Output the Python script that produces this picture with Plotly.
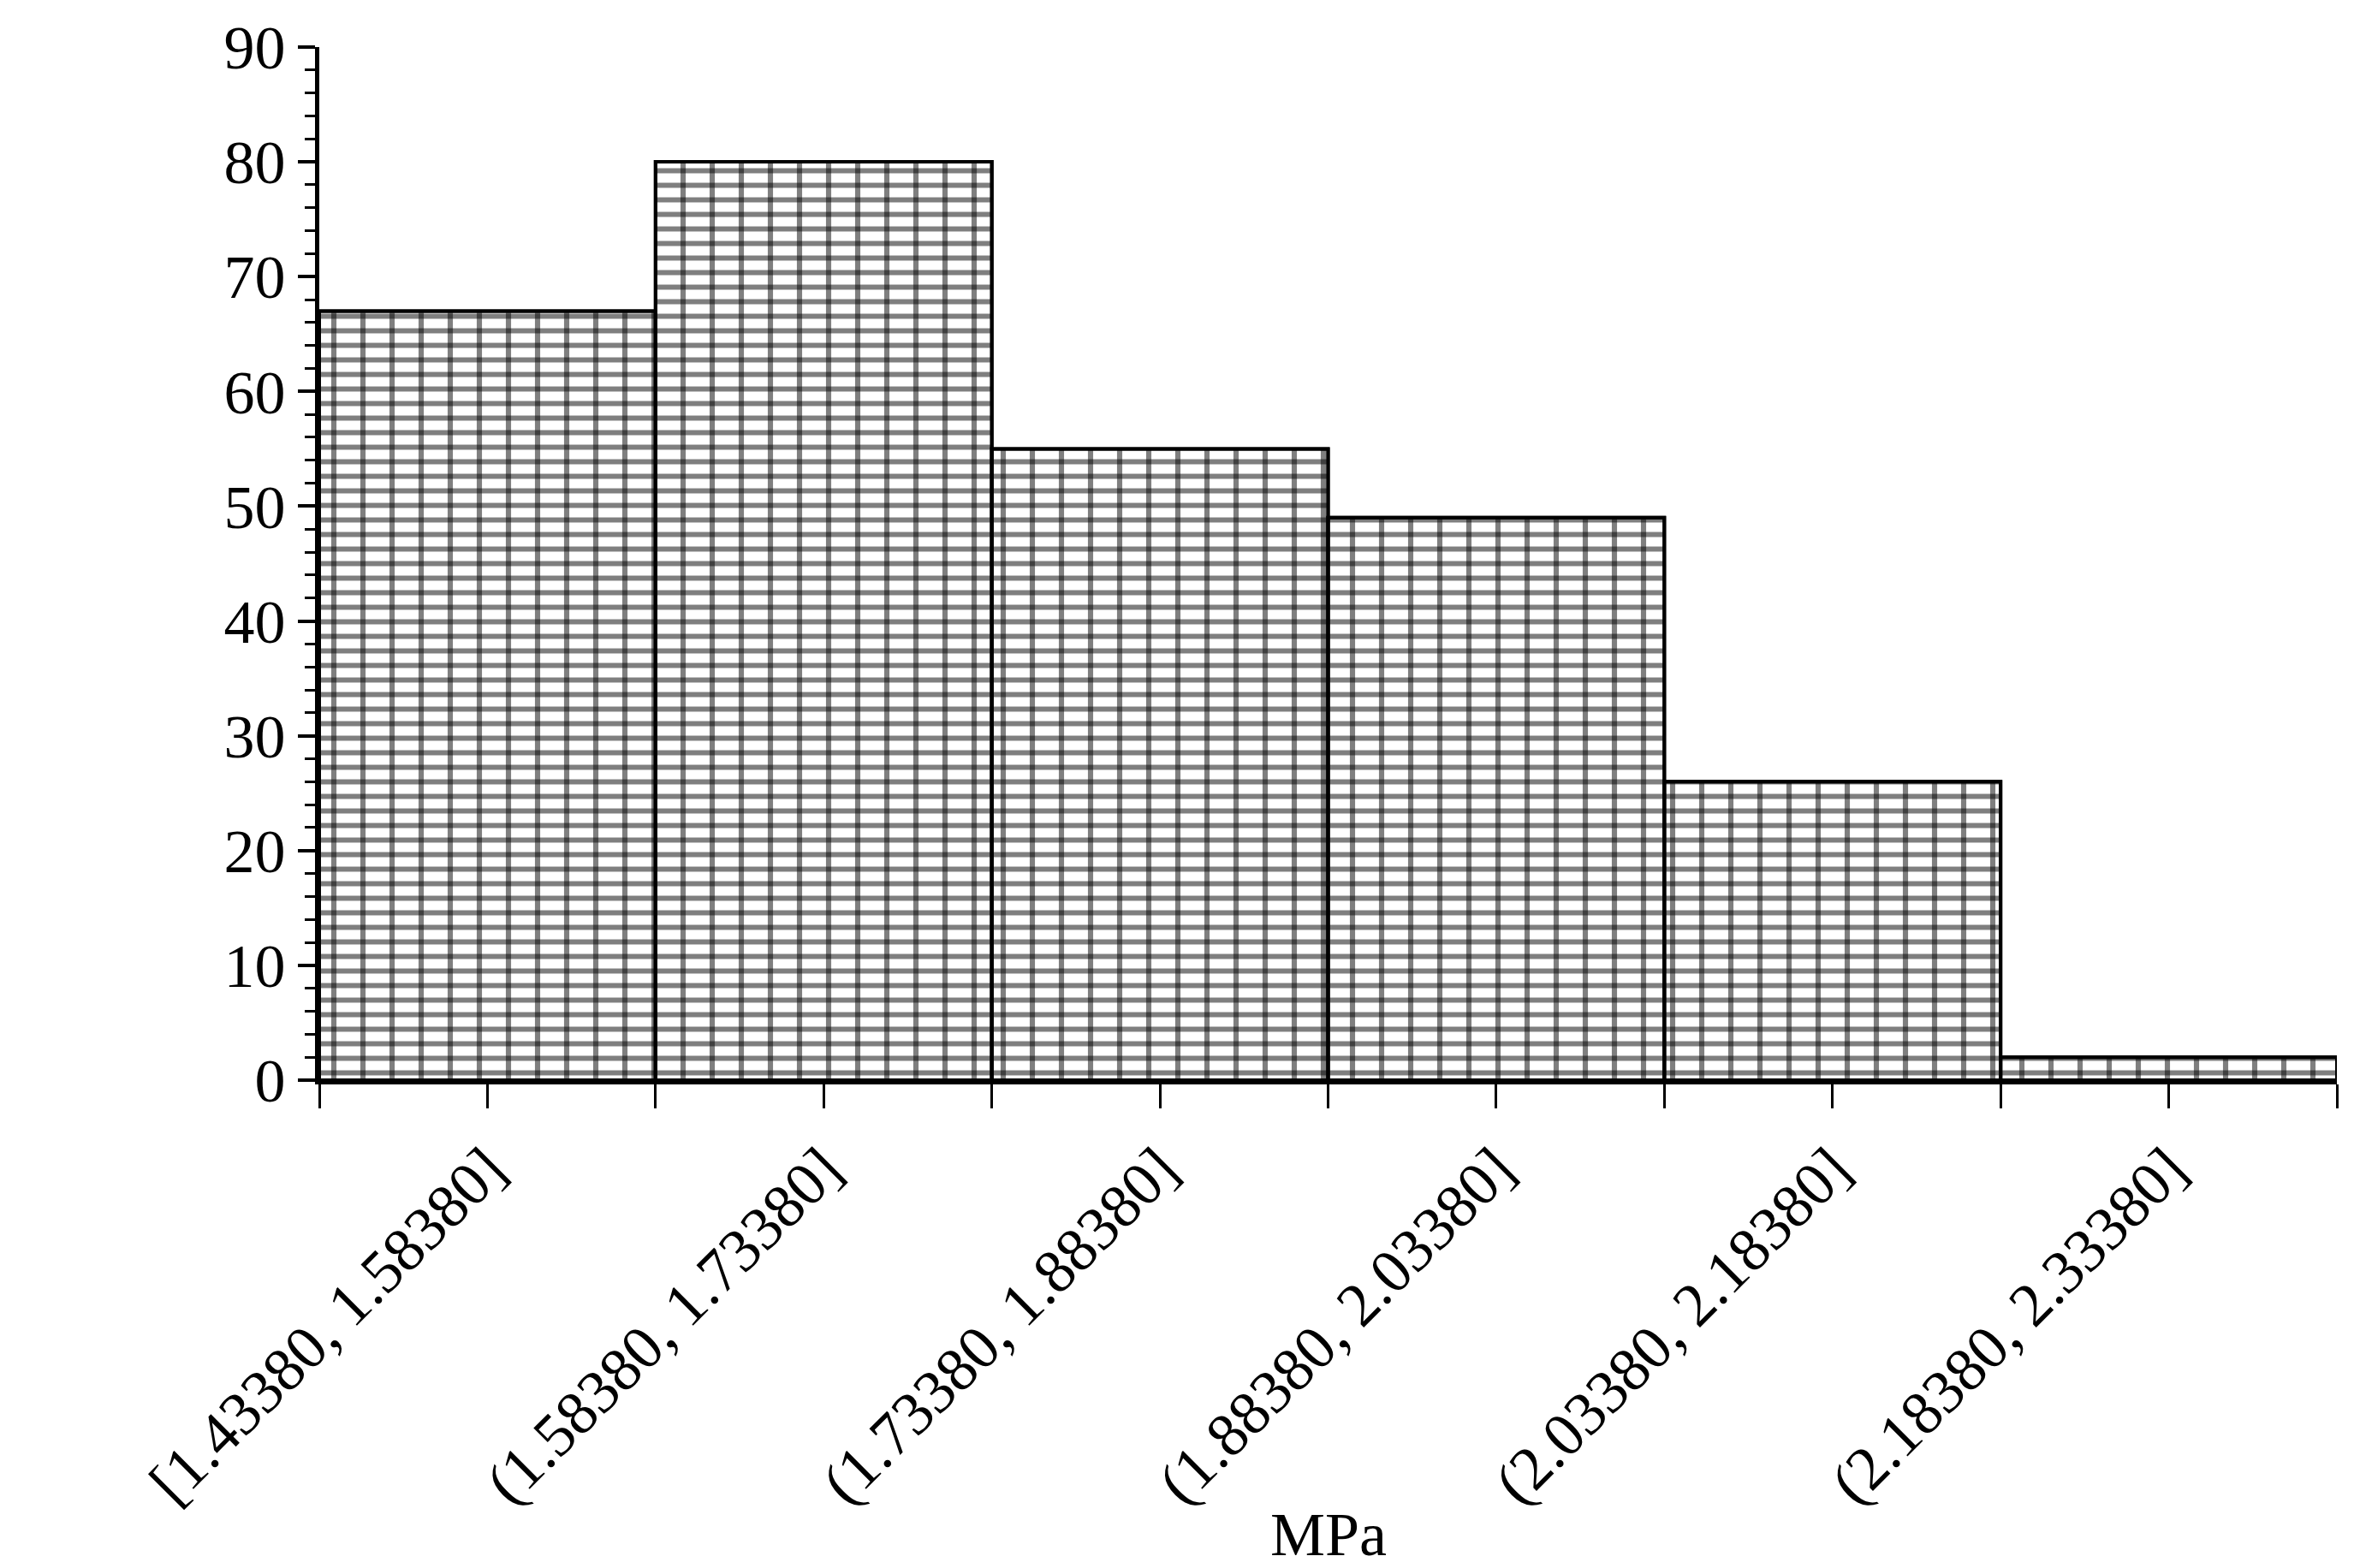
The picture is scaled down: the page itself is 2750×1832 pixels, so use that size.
import plotly.graph_objects as go

labels = ["[1.43380, 1.58380]", "(1.58380, 1.73380]", "(1.73380, 1.88380]",
          "(1.88380, 2.03380]", "(2.03380, 2.18380]", "(2.18380, 2.33380]"]
counts = [67, 80, 55, 49, 26, 2]
xpos = list(range(len(labels)))

fig = go.Figure()
fig.add_trace(go.Bar(x=xpos, y=counts, width=1, marker=dict(
    color="white", line=dict(color="black", width=4),
    pattern=dict(shape="-", size=17, solidity=0.35, fgcolor="black", bgcolor="white"))))
fig.add_trace(go.Bar(x=xpos, y=counts, width=1, marker=dict(
    color="rgba(0,0,0,0)", line=dict(color="black", width=4),
    pattern=dict(shape="|", size=34, solidity=0.18, fgcolor="black", bgcolor="rgba(0,0,0,0)"))))

font = dict(family="Liberation Serif", size=72, color="black")
fig.update_layout(
    width=2750, height=1832, barmode="overlay", showlegend=False,
    paper_bgcolor="white", plot_bgcolor="white",
    margin=dict(l=365, r=28, t=47, b=578),
    font=font,
    xaxis=dict(range=[-0.5, 5.5], tickvals=xpos, ticktext=labels, tickangle=-45, automargin=False,
               ticks="outside", ticklen=28, tickwidth=3, tickcolor="black",
               minor=dict(tick0=-0.5, dtick=0.5, ticks="outside", ticklen=28, tickwidth=3, tickcolor="black"),
               showline=True, linecolor="black", linewidth=5, showgrid=False, zeroline=False),
    yaxis=dict(range=[0, 90], dtick=10, ticks="outside", ticklen=20, tickwidth=4, tickcolor="black",
               automargin=False,
               minor=dict(dtick=2, ticks="outside", ticklen=12, tickwidth=3, tickcolor="black"),
               showline=True, linecolor="black", linewidth=5, showgrid=False, zeroline=False),
    annotations=[dict(text="MPa", xref="paper", yref="paper", x=0.5, y=-0.44,
                      yanchor="middle", showarrow=False, font=font)],
)
fig.write_html("out.html")
